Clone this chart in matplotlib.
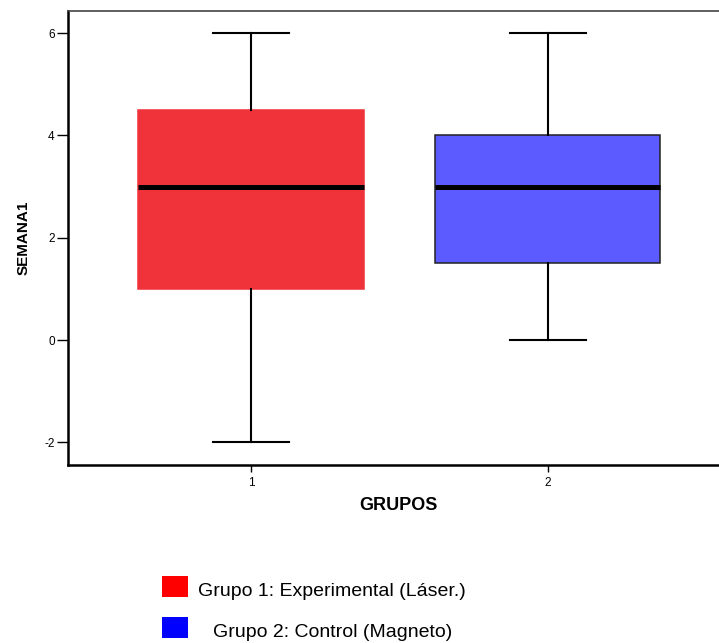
import matplotlib
matplotlib.use("Agg")
import matplotlib.pyplot as plt
from matplotlib.patches import Rectangle

plt.rcParams['font.family'] = ['Liberation Sans', 'DejaVu Sans']
plt.rcParams['axes.unicode_minus'] = False

groups = [1, 2]
whisker_low = [-2, 0]
q1 = [1, 1.5]
medians = [3, 3]
q3 = [4.5, 4]
whisker_high = [6, 6]
box_colors = ['#F0323A', '#5B5BFF']
box_edges = ['#F0323A', '#222222']
legend_labels = ['Grupo 1: Experimental (Láser.)', 'Grupo 2: Control (Magneto)']
legend_colors = ['#FF0000', '#0000FF']

fig = plt.figure(figsize=(7.19, 6.43), dpi=100)
ax = fig.add_axes([68/719, 1-465/643, 1-68/719, (465-11)/643])

stats = []
for i in range(len(groups)):
    stats.append({'whislo': whisker_low[i], 'q1': q1[i], 'med': medians[i],
                  'q3': q3[i], 'whishi': whisker_high[i], 'fliers': []})

bp = ax.bxp(stats, positions=groups, widths=0.758, patch_artist=True,
            showfliers=False,
            medianprops=dict(color='black', linewidth=3.6, solid_capstyle='butt'),
            whiskerprops=dict(color='black', linewidth=1.5),
            capprops=dict(color='black', linewidth=1.5),
            capwidths=0.255)
for patch, fc, ec in zip(bp['boxes'], box_colors, box_edges):
    patch.set_facecolor(fc)
    patch.set_edgecolor(ec)
    patch.set_linewidth(1.1)

ax.set_xlim(0.384, 2.576)
ax.set_ylim(-2.44, 6.43)
ax.set_yticks([-2, 0, 2, 4, 6])
ax.set_xticks(groups)
ax.set_xticklabels(['1', '2'])
ax.tick_params(axis='y', labelsize=8.5, length=8, width=1, direction='out', pad=1.5)
ax.tick_params(axis='x', labelsize=8.5, length=5, width=1, direction='out', pad=4)
for side in ['left', 'bottom']:
    ax.spines[side].set_linewidth(1.8)
ax.spines['top'].set_linewidth(1.2)
ax.spines['top'].set_color('#444444')
ax.spines['right'].set_visible(False)
ax.set_ylabel('SEMANA1', fontsize=11, fontweight='bold')
ax.yaxis.set_label_coords(-0.058, 0.5)
ax.set_xlabel('GRUPOS', fontsize=13, fontweight='bold')
ax.xaxis.set_label_coords(0.507, -0.07)

# legend drawn by hand, like the original
for i, (lab, col) in enumerate(zip(legend_labels, legend_colors)):
    y0 = 597 + i*41
    fig.patches.append(Rectangle((162/719, 1-y0/643), 26/719, 21/643,
                                 transform=fig.transFigure, facecolor=col,
                                 edgecolor='none'))
    fig.text((198 + 15*i)/719, 1-(y0 - 1)/643, lab, fontsize=14,
             va='baseline', ha='left')

fig.savefig('out.png', dpi=100)
